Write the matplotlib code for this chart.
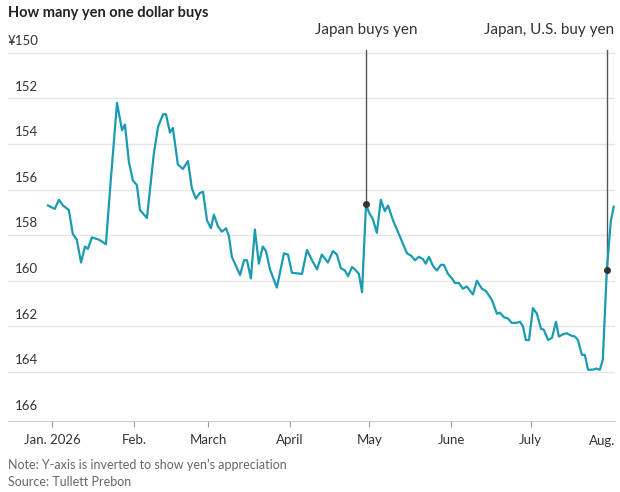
import matplotlib
matplotlib.use("Agg")
import matplotlib.pyplot as plt

days = [-1.5,1.1,2.6,4.2,6.4,7.9,9.4,11.0,12.5,13.6,15.1,17.8,20.4,22.3,24.6,26.5,27.6,29.1,30.6,32.1,33.3,35.9,38.5,40.1,42.0,43.1,44.6,45.7,47.6,49.5,51.4,52.9,54.4,55.9,57.1,58.6,60.1,61.2,62.7,64.2,65.8,66.9,68.0,71.1,72.6,73.7,75.2,76.7,78.2,79.7,80.9,82.4,85.0,87.7,89.2,90.7,94.5,96.4,98.3,100.2,102.0,104.3,106.2,107.7,109.2,110.7,111.9,113.4,114.5,116.0,117.2,118.7,119.8,121.3,122.8,124.3,125.8,127.0,128.9,131.1,134.2,135.7,137.2,138.7,140.2,141.3,142.5,144.0,145.5,147.0,148.1,149.7,151.2,152.3,153.8,155.3,156.8,158.4,159.1,160.6,162.5,164.0,165.2,166.3,168.2,169.3,170.8,172.3,173.8,175.4,176.9,178.0,179.1,180.3,181.8,183.3,184.8,185.9,187.5,189.0,190.5,191.6,193.1,194.6,196.1,197.7,198.8,200.3,201.4,202.6,204.5,205.6,207.1,208.2,209.7,211.2,212.3]
yen = [156.7,156.85,156.45,156.7,156.9,157.95,158.2,159.2,158.5,158.6,158.1,158.2,158.4,155.5,152.2,153.4,153.15,154.8,155.6,155.8,156.9,157.25,154.45,153.25,152.7,152.7,153.5,153.3,154.9,155.1,154.75,155.95,156.4,156.15,156.1,157.35,157.7,157.1,157.6,157.85,157.7,158.05,158.95,159.75,159.1,159.1,159.9,157.75,159.25,158.5,158.7,159.5,160.3,158.8,158.85,159.65,159.7,158.65,159.1,159.5,158.85,159.2,158.7,158.85,159.45,159.55,159.8,159.4,159.5,159.7,160.5,156.65,157.0,157.3,157.9,156.45,156.95,156.7,157.35,157.95,158.8,158.9,159.1,158.95,159.05,159.25,158.95,159.35,159.55,159.3,159.3,159.7,159.9,160.1,160.1,160.35,160.25,160.5,160.6,160.0,160.35,160.45,160.65,160.85,161.45,161.4,161.6,161.65,161.85,161.85,161.8,162.0,162.6,162.6,161.2,161.45,162.1,162.15,162.6,162.5,161.8,162.45,162.35,162.3,162.4,162.45,162.6,163.25,163.25,163.9,163.9,163.85,163.9,163.45,159.55,157.4,156.75]

month_days = [0, 31, 59, 90, 120, 151, 181]
month_labels = ["Jan. 2026", "Feb.", "March", "April", "May", "June", "July"]
aug_day = 212
aug_label = "Aug."
y_ticks = [150, 152, 154, 156, 158, 160, 162, 164, 166]
event_days = [118.7, 209.7]
event_vals = [156.65, 159.55]
event_labels = ["Japan buys yen", "Japan, U.S. buy yen"]

plt.rcParams['font.family'] = ['Lato', 'DejaVu Sans']
fig = plt.figure(figsize=(6.2, 4.92), dpi=100)
ax = fig.add_axes([8/620, 1-421/492, 607/620, (421-47)/492])
ax.set_xlim(-16.6, 212.8)
ax.set_ylim(166.15, 149.75)

for v in y_ticks[:-1]:
    ax.axhline(v, color="#e6e6e6", lw=1, zorder=1)
for i, v in enumerate(y_ticks):
    lab = ("¥%d" % v) if i == 0 else str(v)
    ax.text(0 if i == 0 else 0.012, v - 0.25, lab, transform=ax.get_yaxis_transform(),
            ha="left", va="bottom", fontsize=9.5, color="#333333")

ax.plot(days, yen, color="#1a9bb0", lw=1.6, zorder=3)

for d, v in zip(event_days, event_vals):
    ax.plot([d, d], [v, 149.9], color="#555555", lw=1, zorder=2, clip_on=False)
    ax.plot(d, v, "o", color="#333333", ms=4, zorder=4)

fig.text((52 + event_days[0] * 2.646) / 620, 1 - 34/492, event_labels[0], ha="center",
         va="baseline", fontsize=11, color="#333333")
fig.text(614/620, 1 - 34/492, event_labels[1], ha="right", va="baseline",
         fontsize=11, color="#333333")

ax.set_yticks([])
ax.set_xticks(month_days)
ax.set_xticklabels(month_labels, fontsize=9.5, color="#333333")
ax.tick_params(axis="x", length=4, color="#999999", pad=5)
ax.text(1.0, -0.038, aug_label, transform=ax.transAxes, ha="right", va="top",
        fontsize=9.5, color="#333333")
for s in ["top", "right", "left"]:
    ax.spines[s].set_visible(False)
ax.spines["bottom"].set_color("#cccccc")

fig.text(8/620, 1 - 13/492, "How many yen one dollar buys", fontsize=10.5,
         fontweight="bold", color="#222222", va="center")
fig.text(8/620, 1 - 465/492, "Note: Y-axis is inverted to show yen’s appreciation",
         fontsize=9, color="#666666", va="center")
fig.text(8/620, 1 - 482/492, "Source: Tullett Prebon", fontsize=9, color="#666666", va="center")

fig.savefig("out.png", dpi=100)
